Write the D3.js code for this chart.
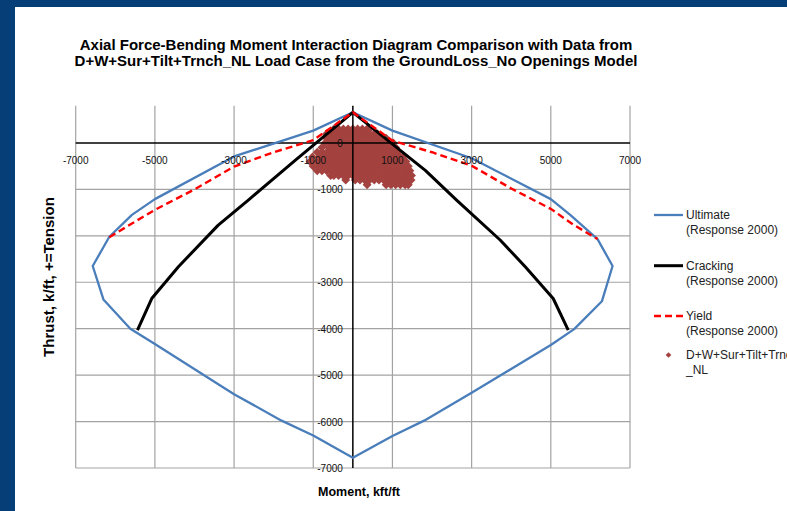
<!DOCTYPE html>
<html>
<head>
<meta charset="utf-8">
<script src="https://cdn.jsdelivr.net/npm/d3@7"></script>
<style>
  body { margin: 0; background: #ffffff; }
  svg { display: block; font-family: "Liberation Sans", Arial, sans-serif; }
</style>
</head>
<body>
<div id="chart"></div>
<script>
//Chart data (moment kft/ft, thrust k/ft)
const ultimateMoment = [0, 1000, 3000, 5000, 5490, 6180, 6560, 6290, 5590, 5000, 3000, 1800, 1000, 0,
    -1000, -1800, -3000, -5000, -5620, -6300, -6570, -6150, -5580, -5000, -3000, -1000, 0];
const ultimateThrust = [660, 265, -330, -1210, -1550, -2070, -2650, -3410, -4010, -4350, -5380, -5980, -6310, -6780,
    -6300, -5980, -5410, -4330, -4000, -3370, -2650, -2020, -1550, -1210, -290, 265, 660];

const crackingMoment = [-5440, -5080, -4400, -3400, -2640, -1450, 0, 1830, 2620, 3720, 4360, 5060, 5440];
const crackingThrust = [-4030, -3350, -2660, -1770, -1230, -370, 660, -590, -1230, -2090, -2670, -3350, -4030];

const yieldMoment = [-6150, -5570, -5000, -4000, -3000, -2000, -1000, 0, 1000, 2000, 3000, 4000, 5000, 5570, 6180];
const yieldThrust = [-2030, -1730, -1440, -1000, -510, -200, 60, 660, 50, -200, -490, -980, -1420, -1760, -2070];

//load case points, one row of moments per thrust level
const loadThrust = [300, 200, 100, 0, -100, -200, -300, -400, -500, -600, -700, -800, -900];
const loadMoment = [
    [-480, -360, -240, -120, 0, 120, 240, 360, 420],
    [-660, -540, -420, -300, -180, -60, 60, 180, 300, 420, 540, 620],
    [-660, -600, -480, -360, -240, -120, 0, 120, 240, 360, 480, 600, 720, 840],
    [-700, -540, -420, -300, -180, -60, 60, 180, 300, 420, 540, 660, 780, 900, 1020],
    [-780, -600, -480, -360, -240, -120, 0, 120, 240, 360, 480, 600, 720, 840, 960, 1080],
    [-900, -780, -660, -540, -420, -300, -180, -60, 60, 180, 300, 420, 540, 660, 780, 900, 1020, 1140],
    [-1020, -840, -720, -600, -480, -360, -240, -120, 0, 120, 240, 360, 480, 600, 720, 840, 960, 1080, 1200, 1260],
    [-1080, -900, -780, -660, -540, -420, -300, -180, -60, 60, 180, 300, 420, 540, 660, 780, 900, 1020, 1140, 1260, 1340],
    [-1000, -840, -720, -600, -480, -360, -240, -120, 0, 120, 240, 360, 480, 600, 720, 840, 960, 1080, 1200, 1320, 1400],
    [-900, -780, -660, -540, -420, -300, -180, -60, 60, 180, 300, 420, 540, 660, 780, 900, 1020, 1140, 1260, 1380, 1440],
    [-560, -480, -360, -240, -120, 0, 120, 240, 360, 480, 600, 720, 840, 960, 1080, 1200, 1320, 1440, 1480],
    [-180, 60, 180, 300, 420, 540, 660, 780, 900, 1020, 1140, 1260, 1380, 1470],
    [360, 840, 960, 1080, 1200, 1320, 1400]
];

const xTicks = [-7000, -5000, -3000, -1000, 1000, 3000, 5000, 7000];
const yTicks = [0, -1000, -2000, -3000, -4000, -5000, -6000, -7000];

const seriesNames = ["Ultimate", "Cracking", "Yield", "D+W+Sur+Tilt+Trnch"];
const seriesSub = ["(Response 2000)", "(Response 2000)", "(Response 2000)", "_NL"];
const titleLines = [
    "Axial Force-Bending Moment Interaction Diagram Comparison with Data from",
    "D+W+Sur+Tilt+Trnch_NL Load Case from the GroundLoss_No Openings Model"
];

const overall_width = 787
const overall_height = 511

let svg = d3.select("#chart")
    .append("svg")
    .attr("width", overall_width)
    .attr("height", overall_height);

//blue frame + white chart area
svg.append("rect").attr("width", overall_width).attr("height", overall_height).attr("fill", "#063f78");
svg.append("rect")
    .attr("x", 15).attr("y", 7)
    .attr("width", overall_width - 15).attr("height", overall_height - 7)
    .attr("fill", "#ffffff");

const plot = {l: 75.7, r: 630, t: 105.8, b: 468};
let scaleX = d3.scaleLinear().domain([-7000, 7000]).range([plot.l, plot.r]);
let scaleY = d3.scaleLinear().domain([-7000, 800]).range([plot.b, plot.t]);

let graph = svg.append("g");

//gridlines
graph.append("g")
    .selectAll("line")
    .data(xTicks)
    .join("line")
    .attr("x1", d => scaleX(d)).attr("x2", d => scaleX(d))
    .attr("y1", plot.t).attr("y2", plot.b)
    .attr("stroke", "#a3a3a3").attr("stroke-width", 1.2);
graph.append("g")
    .selectAll("line")
    .data(yTicks.filter(d => d !== 0))
    .join("line")
    .attr("x1", plot.l).attr("x2", plot.r)
    .attr("y1", d => scaleY(d)).attr("y2", d => scaleY(d))
    .attr("stroke", "#a3a3a3").attr("stroke-width", 1.2);

//load case points (drawn under the curves)
const color = {ult: "#4a7ebb", crack: "#000000", yld: "#ff0000", pts: "#a3423f"};
let points = [];
loadThrust.forEach(function(p, i) {
    loadMoment[i].forEach(function(m) { points.push([m, p]); });
});
const diamond = d3.symbol().type(d3.symbolSquare).size(40);
graph.append("g")
    .selectAll("path")
    .data(points)
    .join("path")
    .attr("d", diamond)
    .attr("transform", d => `translate(${scaleX(d[0])},${scaleY(d[1])}) rotate(45)`)
    .attr("fill", color.pts);

//axes lines through zero
graph.append("line")
    .attr("x1", plot.l).attr("x2", plot.r)
    .attr("y1", scaleY(0)).attr("y2", scaleY(0))
    .attr("stroke", "#000").attr("stroke-width", 1.5);
graph.append("line")
    .attr("x1", scaleX(0)).attr("x2", scaleX(0))
    .attr("y1", plot.t).attr("y2", plot.b)
    .attr("stroke", "#000").attr("stroke-width", 1.5);

//curves
let line = d3.line()
    .x(d => scaleX(d[0]))
    .y(d => scaleY(d[1]));

function drawCurve(ms, ps, stroke, width, dash) {
    graph.append("path")
        .datum(ms.map((m, i) => [m, ps[i]]))
        .attr("fill", "none")
        .attr("stroke", stroke)
        .attr("stroke-width", width)
        .attr("stroke-linejoin", "round")
        .attr("stroke-dasharray", dash)
        .attr("d", line);
}
drawCurve(ultimateMoment, ultimateThrust, color.ult, 2.3, null);
drawCurve(crackingMoment, crackingThrust, color.crack, 3, null);
drawCurve(yieldMoment, yieldThrust, color.yld, 2.4, "7,4");

//tick labels
graph.append("g")
    .selectAll("text")
    .data(xTicks)
    .join("text")
    .attr("x", d => scaleX(d))
    .attr("y", scaleY(0) + 21.5)
    .attr("text-anchor", "middle")
    .attr("font-size", 10)
    .attr("fill", "#111")
    .text(d => d);
graph.append("g")
    .selectAll("text")
    .data(yTicks)
    .join("text")
    .attr("x", scaleX(0) - 10)
    .attr("y", d => scaleY(d) + 4)
    .attr("text-anchor", "end")
    .attr("font-size", 10)
    .attr("fill", "#111")
    .text(d => d);

//title
svg.append("g")
    .selectAll("text")
    .data(titleLines)
    .join("text")
    .attr("x", 356)
    .attr("y", (d, i) => 50 + i * 16)
    .attr("text-anchor", "middle")
    .attr("font-size", 15)
    .attr("font-weight", "bold")
    .text(d => d);

//axis titles
svg.append("text")
    .attr("x", 359).attr("y", 496)
    .attr("text-anchor", "middle")
    .attr("font-size", 12.5).attr("font-weight", "bold")
    .text("Moment, kft/ft");
svg.append("text")
    .attr("transform", "translate(54,277) rotate(-90)")
    .attr("text-anchor", "middle")
    .attr("font-size", 15).attr("font-weight", "bold")
    .text("Thrust, k/ft, +=Tension");

//legend
const legendY = [215, 265.7, 316, 355];
let legend = svg.append("g");
legendY.forEach(function(y, i) {
    if (i === 0) legend.append("line").attr("x1", 654).attr("x2", 683).attr("y1", y).attr("y2", y)
        .attr("stroke", color.ult).attr("stroke-width", 2.3);
    if (i === 1) legend.append("line").attr("x1", 654).attr("x2", 683).attr("y1", y).attr("y2", y)
        .attr("stroke", color.crack).attr("stroke-width", 3);
    if (i === 2) legend.append("line").attr("x1", 654).attr("x2", 683).attr("y1", y).attr("y2", y)
        .attr("stroke", color.yld).attr("stroke-width", 2.4).attr("stroke-dasharray", "7,4");
    if (i === 3) legend.append("path")
        .attr("d", d3.symbol().type(d3.symbolSquare).size(16))
        .attr("transform", `translate(668.5,${y}) rotate(45)`)
        .attr("fill", color.pts);
    legend.append("text")
        .attr("x", 686).attr("y", y + 4.3)
        .attr("font-size", 12).attr("fill", "#222")
        .text(seriesNames[i]);
    legend.append("text")
        .attr("x", 686).attr("y", y + 18.8)
        .attr("font-size", 12).attr("fill", "#222")
        .text(seriesSub[i]);
});
</script>
</body>
</html>
